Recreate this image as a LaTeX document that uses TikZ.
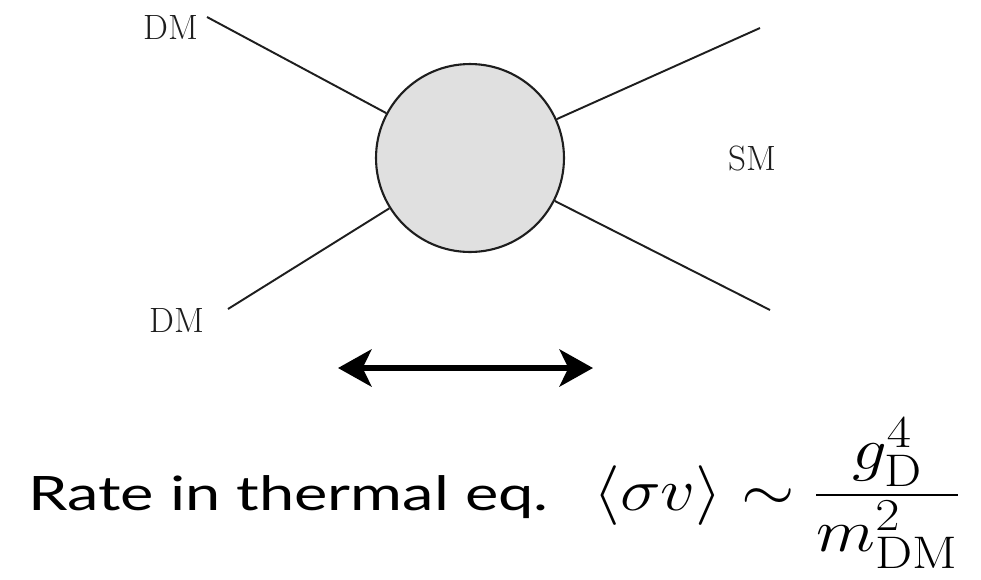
\RequirePackage{fix-cm}
\documentclass[tikz,border=0pt]{standalone}
\usepackage{amsmath}
\usepackage{fontspec}
\newfontfamily\ratefont[FakeStretch=1.33]{Lato}
\DeclareMathSizes{34}{34}{26}{20}
\usepackage{tikz}
\usetikzlibrary{arrows.meta}
\definecolor{ink}{HTML}{1E1E1E}
\definecolor{blobfill}{HTML}{E0E0E0}

\begin{document}
\begin{tikzpicture}[x=0.02cm,y=-0.02cm,
  leg/.style={ink,line width=1.1pt},
  lbl/.style={font=\fontsize{20}{24}\selectfont,text=ink,inner sep=0pt}]
\useasboundingbox (0,0) rectangle (981,579);
% the blob and its four legs
\node[circle,draw=ink,line width=1.2pt,fill=blobfill,minimum size=3.76cm,inner sep=0pt] (blob) at (470,158) {};
\coordinate (dmtop) at (207,17);
\coordinate (dmbot) at (228,309);
\coordinate (smtop) at (760,28);
\coordinate (smbot) at (770,310);
\draw[leg] (dmtop) -- (blob);
\draw[leg] (dmbot) -- (blob);
\draw[leg] (smtop) -- (blob);
\draw[leg] (smbot) -- (blob);
\node[lbl] (dmtoplbl) at (171,27) {DM};
\node[lbl] (dmbotlbl) at (177,320) {DM};
\node[lbl] (smlbl) at (752,158) {SM};
% both ways
\coordinate (eqleft) at (338,368);
\coordinate (eqright) at (593,368);
\draw[{Stealth[length=19pt,width=21pt,inset=5pt]}-{Stealth[length=19pt,width=21pt,inset=5pt]},line width=3.5pt] (eqleft) -- (eqright);
% rate, squeezed sideways like the slide
\node[anchor=base west,inner sep=0pt,font={\ratefont\fontsize{27}{33}\selectfont}] (ratetxt) at (28,510) {Rate in thermal eq.};
\node[anchor=base west,inner sep=0pt,font=\fontsize{34}{40}\selectfont] (ratemath) at (593,510) {\scalebox{1.15}[1]{$\langle\sigma v\rangle\sim\dfrac{g_{\mathrm{D}}^4}{m_{\mathrm{DM}}^2}$}};
\end{tikzpicture}
\end{document}
